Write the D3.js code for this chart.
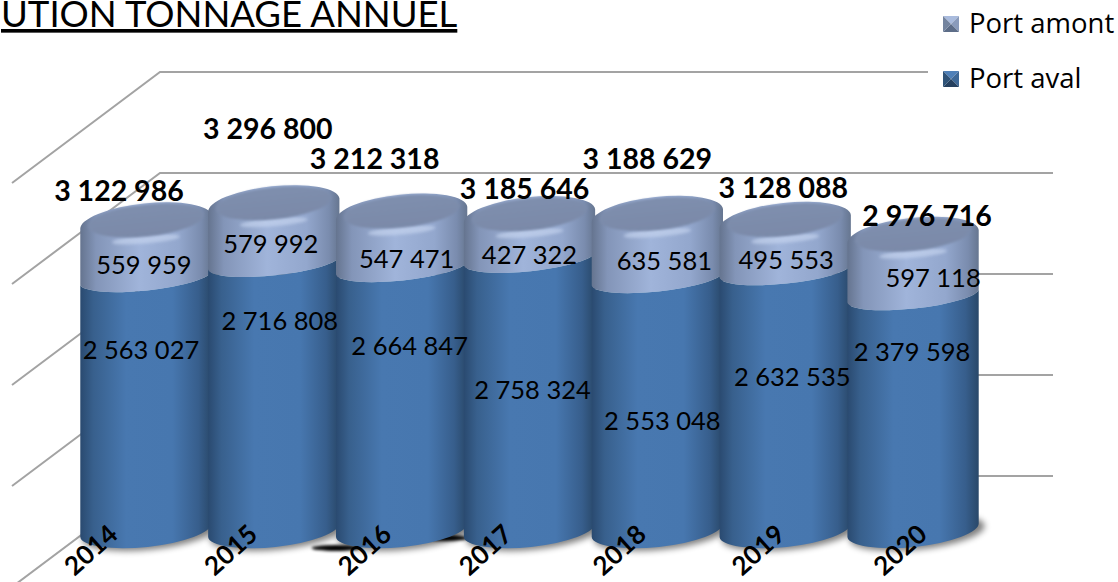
<!DOCTYPE html>
<html>
<head>
<meta charset="utf-8">
<script src="https://cdn.jsdelivr.net/npm/d3@7"></script>
<style>
  html, body { margin: 0; padding: 0; background: #fff; overflow: hidden; }
  svg { display: block; }
  text { font-family: Lato, sans-serif; fill: #000; }
</style>
</head>
<body>
<script>
let dim = { width: 1118, height: 582 };

let years = ['2014', '2015', '2016', '2017', '2018', '2019', '2020'];
let portAval = [2563027, 2716808, 2664847, 2758324, 2553048, 2632535, 2379598];
let portAmont = [559959, 579992, 547471, 427322, 635581, 495553, 597118];
let gridTicks = [0, 1000000, 2000000, 3000000, 4000000];
let seriesNames = ['Port amont', 'Port aval'];

// labels were moved by hand in the original chart, [dx, y]
let totalNudge = [[-27, 201], [-6, 139], [-27, 169], [-5, 199], [-10, 169], [-2, 198], [14, 226]];
let amontNudge = [[-2, 265], [-3, 244], [5, 259], [0, 255], [7, 261], [1, 260], [20, 278]];
let avalNudge = [[-5, 350], [6, 321], [8, 346], [3, 390], [5, 421], [7, 377], [-1, 352]];
let yearNudge = [-55, -43, -37, -44, -38, -27, -13];

let svg = d3.select('body').append('svg').attr('width', dim.width).attr('height', dim.height);
let defs = svg.append('defs');

function gradient(id, stops, x2, y2) {
  let g = defs.append('linearGradient').attr('id', id)
    .attr('x1', 0).attr('y1', 0).attr('x2', x2).attr('y2', y2);
  stops.forEach((s) => g.append('stop').attr('offset', s[0]).attr('stop-color', s[1]));
}
gradient('aval', [[0, '#2a4a70'], [0.1, '#38608d'], [0.35, '#4878b0'], [0.7, '#4777af'], [0.9, '#375e8c'], [1, '#294869']], 1, 0);
gradient('amont', [[0, '#65748f'], [0.12, '#8395b8'], [0.45, '#a0b4da'], [0.75, '#93a7cd'], [0.92, '#7a8cae'], [1, '#667690']], 1, 0);
gradient('face', [[0, '#7f8fae'], [1, '#7a89a8']], 0, 1);

function blur(id, sd) {
  defs.append('filter').attr('id', id).attr('x', '-30%').attr('y', '-80%').attr('width', '160%').attr('height', '260%')
    .append('feGaussianBlur').attr('stdDeviation', sd);
}
blur('blur6', 3);
blur('blur2', 1.6);
blur('blur1', 1);

// scales
let x = d3.scaleBand().domain(years).range([82, 977]);
let yBar = d3.scaleLinear().domain([0, 4000000]).range([530, 136]);
let yGrid = d3.scaleLinear().domain([0, 4000000]).range([476, 72]);

// stack
let table = years.map((y, i) => ({ year: y, aval: portAval[i], amont: portAmont[i] }));
let stacked = d3.stack().keys(['aval', 'amont'])(table);
let fmt = d3.formatLocale({ decimal: ',', thousands: ' ', grouping: [3], currency: ['', ''] }).format(',d');

// walls
let grid = svg.append('g').attr('stroke', '#a3a3a3').attr('stroke-width', 2).attr('fill', 'none');
gridTicks.forEach((t) => {
  let py = yGrid(t);
  grid.append('path').attr('d', `M12,${py + 111}L160,${py}L${t === 4000000 ? 928 : 1053},${py}`);
});

// cylinder geometry
let rx = 66;
let tilt = 6;
let dx = rx * Math.cos(tilt * Math.PI / 180);
let dy = rx * Math.sin(tilt * Math.PI / 180);

function arc(ry, sweep, px, py) {
  return `A${rx},${ry} ${-tilt} 0 ${sweep} ${px},${py}`;
}

// shadows on the floor
let shadows = svg.append('g');
years.forEach((y) => {
  let cx = x(y) + x.bandwidth() / 2;
  shadows.append('ellipse').attr('cx', cx + 4).attr('cy', 533).attr('rx', rx + 2).attr('ry', 17)
    .attr('transform', `rotate(${-tilt} ${cx} 533)`)
    .attr('fill', '#000').attr('opacity', 0.5).attr('filter', 'url(#blur6)');
});
// the dark smudge around 2016
shadows.append('ellipse').attr('cx', x('2016') - 2).attr('cy', 548).attr('rx', 24).attr('ry', 3).attr('fill', '#000').attr('filter', 'url(#blur2)');
shadows.append('ellipse').attr('cx', x('2017') - 20).attr('cy', 538).attr('rx', 22).attr('ry', 3).attr('fill', '#000').attr('filter', 'url(#blur2)');

// cylinders
let bars = svg.append('g').selectAll('g').data(table).join('g');
bars.each(function (d, i) {
  let g = d3.select(this);
  let cx = x(d.year) + x.bandwidth() / 2;
  let y0 = yBar(stacked[0][i][0]);
  let y1 = yBar(stacked[0][i][1]);
  let y2 = yBar(stacked[1][i][1]);
  let baseRy = 17;
  let seamRy = 13;
  let topRy = 19;

  // upper part first, lower part covers its bottom edge
  g.append('path').attr('fill', 'url(#amont)')
    .attr('d', `M${cx - dx},${y1 + dy}L${cx - dx},${y2 + dy}` + arc(topRy, 1, cx + dx, y2 - dy) +
      `L${cx + dx},${y1 - dy}` + arc(seamRy, 1, cx - dx, y1 + dy) + 'Z');
  g.append('path').attr('fill', 'url(#aval)')
    .attr('d', `M${cx - dx},${y1 + dy}` + arc(seamRy, 0, cx + dx, y1 - dy) +
      `L${cx + dx},${y0 - dy}` + arc(baseRy, 1, cx - dx, y0 + dy) + 'Z');
  // lighter rim under the top face
  g.append('ellipse').attr('cx', cx).attr('cy', y2 + 17).attr('rx', 34).attr('ry', 4)
    .attr('transform', `rotate(${-tilt + 1} ${cx} ${y2 + 17})`)
    .attr('fill', '#c4d3ee').attr('opacity', 0.7).attr('filter', 'url(#blur2)');
  // top face
  g.append('ellipse').attr('cx', cx).attr('cy', y2 - 2).attr('rx', 58).attr('ry', 16)
    .attr('transform', `rotate(${-tilt} ${cx} ${y2 - 2})`)
    .attr('fill', 'url(#face)').attr('filter', 'url(#blur1)');
});

// value labels
let labels = svg.append('g').attr('text-anchor', 'middle');
table.forEach((d, i) => {
  let cx = x(d.year) + x.bandwidth() / 2;
  labels.append('text').attr('x', cx + avalNudge[i][0]).attr('y', avalNudge[i][1])
    .attr('dy', '0.35em').attr('font-size', 25.5).text(fmt(d.aval));
  labels.append('text').attr('x', cx + amontNudge[i][0]).attr('y', amontNudge[i][1])
    .attr('dy', '0.35em').attr('font-size', 25.5).text(fmt(d.amont));
});
table.forEach((d, i) => {
  let cx = x(d.year) + x.bandwidth() / 2;
  labels.append('text').attr('x', cx + totalNudge[i][0]).attr('y', totalNudge[i][1])
    .attr('font-size', 28.5).attr('font-weight', 700).text(fmt(d.aval + d.amont));
});

// year labels
years.forEach((y, i) => {
  let cx = x(y) + x.bandwidth() / 2 + yearNudge[i];
  svg.append('text').attr('transform', `translate(${cx},550) rotate(-42)`)
    .attr('text-anchor', 'middle').attr('dy', '0.35em')
    .attr('font-size', 26).attr('font-weight', 700).text(y);
});

// title, cut by the top of the picture
svg.append('text').attr('x', 1).attr('y', 27).attr('font-size', 36.5)
  .attr('text-decoration', 'underline').text('UTION TONNAGE ANNUEL');

// legend
let legendColors = [['#a9bbdd', '#8a9bbb', '#5d6d88', '#74849f'], ['#4f80b8', '#3e6897', '#25405f', '#2f5378']];
seriesNames.forEach((name, i) => {
  let ly = i === 0 ? 16 : 71;
  let c = legendColors[i];
  let g = svg.append('g').attr('transform', `translate(943,${ly})`);
  g.append('path').attr('d', 'M0,0L16,0L8,8Z').attr('fill', c[0]);
  g.append('path').attr('d', 'M16,0L16,16L8,8Z').attr('fill', c[1]);
  g.append('path').attr('d', 'M0,16L16,16L8,8Z').attr('fill', c[2]);
  g.append('path').attr('d', 'M0,0L0,16L8,8Z').attr('fill', c[3]);
  svg.append('text').attr('x', 969).attr('y', ly + 17).attr('font-size', 27.5)
    .style('font-family', '"Open Sans", sans-serif').text(name);
});
</script>
</body>
</html>
